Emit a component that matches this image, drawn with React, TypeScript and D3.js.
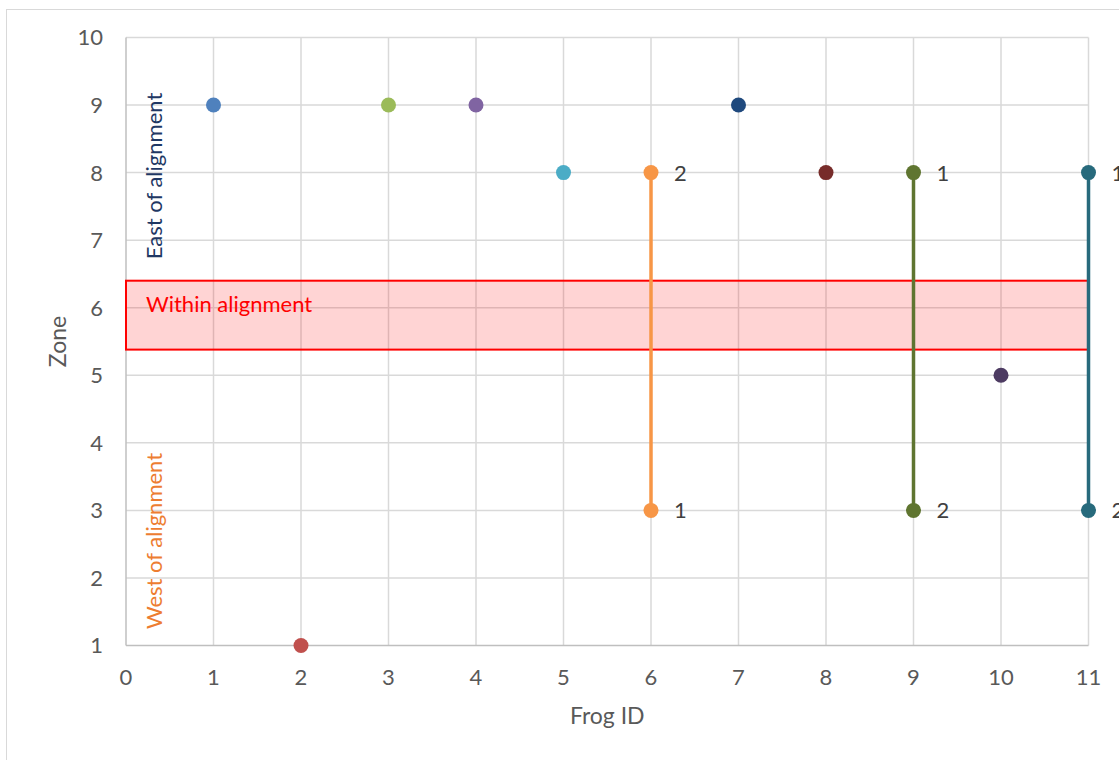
import React from "react";
import * as d3 from "d3";

const frogIds = [1, 2, 3, 4, 5, 7, 8, 10];
const singleZones = [9, 1, 9, 9, 8, 9, 8, 5];
const singleColors = ["#4F81BD", "#C0504D", "#9BBB59", "#8064A2", "#4BACC6", "#1F497D", "#772C2A", "#4D3B62"];

const pairIds = [6, 9, 11];
const pairFirst = [3, 8, 8];
const pairSecond = [8, 3, 3];
const pairColors = ["#F79646", "#5F7530", "#276A7C"];

const xTicks = [0, 1, 2, 3, 4, 5, 6, 7, 8, 9, 10, 11];
const yTicks = [1, 2, 3, 4, 5, 6, 7, 8, 9, 10];
const bandTop = 6.4;
const bandBottom = 5.38;

const FONT = "Lato, 'Open Sans', sans-serif";
const FS = 22;

export default function App() {
  const x = d3.scaleLinear().domain([0, 11]).range([126, 1088.5]);
  const y = d3.scaleLinear().domain([1, 10]).range([645.5, 37.5]);
  const grid = "#D9D9D9";
  const tickColor = "#595959";
  return (
    <svg width={1119} height={760} style={{ position: "absolute", left: 0, top: 0 }} fontFamily={FONT}>
      <rect x={0} y={0} width={1119} height={760} fill="#fff" />
      <rect x={6.5} y={9.5} width={1300} height={1000} fill="none" stroke={grid} strokeWidth={1} />
      {xTicks.slice(1).map((t) => (
        <line key={"gx" + t} x1={x(t)} x2={x(t)} y1={y(10)} y2={y(1)} stroke={grid} strokeWidth={1.5} />
      ))}
      {yTicks.slice(1).map((t) => (
        <line key={"gy" + t} x1={x(0)} x2={x(11)} y1={y(t)} y2={y(t)} stroke={grid} strokeWidth={1.5} />
      ))}
      <line x1={x(0)} x2={x(0)} y1={y(10)} y2={y(1)} stroke="#BFBFBF" strokeWidth={1.5} />
      <line x1={x(0)} x2={x(11)} y1={y(1)} y2={y(1)} stroke="#BFBFBF" strokeWidth={1.5} />
      {yTicks.map((t) => (
        <text key={"ly" + t} x={103} y={y(t)} dy="0.36em" textAnchor="end" fontSize={FS} fill={tickColor}>{t}</text>
      ))}
      {xTicks.map((t) => (
        <text key={"lx" + t} x={x(t)} y={685} textAnchor="middle" fontSize={FS} fill={tickColor}>{t}</text>
      ))}
      <text x={x(5.5)} y={724} textAnchor="middle" fontSize={FS + 1} fill={tickColor}>Frog ID</text>
      <text transform={`translate(66,${y(5.5)}) rotate(-90)`} textAnchor="middle" fontSize={FS + 1} fill={tickColor}>Zone</text>

      <rect x={x(0)} y={y(bandTop)} width={x(11) - x(0)} height={y(bandBottom) - y(bandTop)} fill="rgba(255,0,0,0.17)" stroke="#FF0000" strokeWidth={2} />
      <text x={146} y={312} fontSize={FS} fill="#FF0000">Within alignment</text>
      <text transform={`translate(162,176) rotate(-90)`} textAnchor="middle" fontSize={FS} fill="#1F3864">East of alignment</text>
      <text transform={`translate(162,541) rotate(-90)`} textAnchor="middle" fontSize={FS} fill="#ED7D31">West of alignment</text>

      {pairIds.map((id, i) => (
        <g key={"p" + id}>
          <line x1={x(id)} x2={x(id)} y1={y(pairFirst[i])} y2={y(pairSecond[i])} stroke={pairColors[i]} strokeWidth={3.5} />
          <circle cx={x(id)} cy={y(pairFirst[i])} r={7.5} fill={pairColors[i]} />
          <circle cx={x(id)} cy={y(pairSecond[i])} r={7.5} fill={pairColors[i]} />
          <text x={x(id) + 23} y={y(pairFirst[i])} dy="0.36em" fontSize={FS} fill="#404040">1</text>
          <text x={x(id) + 23} y={y(pairSecond[i])} dy="0.36em" fontSize={FS} fill="#404040">2</text>
        </g>
      ))}
      {frogIds.map((id, i) => (
        <circle key={"s" + id} cx={x(id)} cy={y(singleZones[i])} r={7.5} fill={singleColors[i]} />
      ))}
    </svg>
  );
}
